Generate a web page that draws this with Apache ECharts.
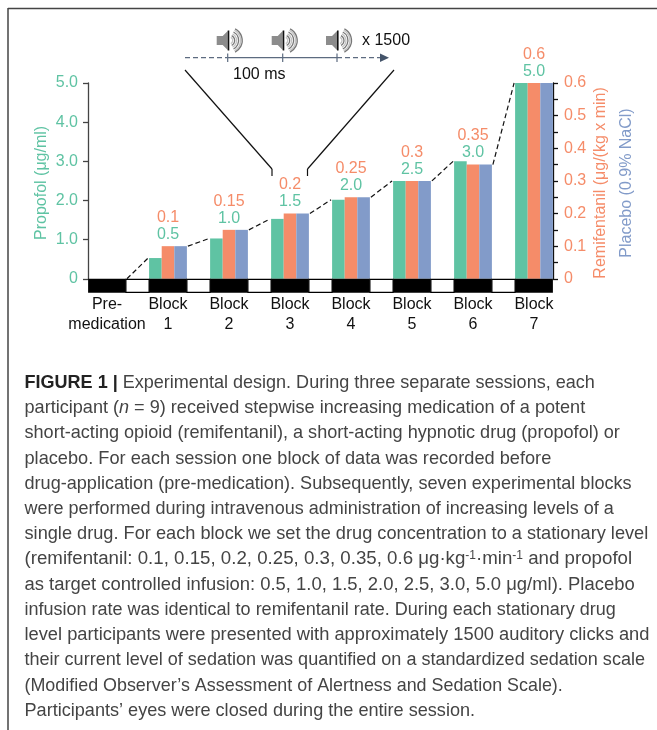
<!DOCTYPE html>
<html>
<head>
<meta charset="utf-8">
<style>
  html, body { margin: 0; padding: 0; background: #fff; }
  #main { width: 657px; height: 730px; }
</style>
<script src="https://cdn.jsdelivr.net/npm/echarts@6/dist/echarts.min.js"></script>
</head>
<body>
<div id="main"></div>
<script>
  var blocks = ['Pre-\nmedication', 'Block\n1', 'Block\n2', 'Block\n3', 'Block\n4', 'Block\n5', 'Block\n6', 'Block\n7']
  var propofol = [0, 0.53, 1.03, 1.53, 2.02, 2.5, 3.0, 5.0]
  var remifentanil = [0, 0.1, 0.15, 0.2, 0.25, 0.3, 0.35, 0.6]
  var placebo = [0, 0.1, 0.15, 0.2, 0.25, 0.3, 0.35, 0.6]
  var propofolLabels = ['', '0.5', '1.0', '1.5', '2.0', '2.5', '3.0', '5.0']
  var remifentanilLabels = ['', '0.1', '0.15', '0.2', '0.25', '0.3', '0.35', '0.6']
  var propofolMax = 5
  var remifentanilMax = 0.6

  var caption = [
    '{b|FIGURE 1 |} Experimental design. During three separate sessions, each',
    'participant ({i|n} = 9) received stepwise increasing medication of a potent',
    'short-acting opioid (remifentanil), a short-acting hypnotic drug (propofol) or',
    'placebo. For each session one block of data was recorded before',
    'drug-application (pre-medication). Subsequently, seven experimental blocks',
    'were performed during intravenous administration of increasing levels of a',
    'single drug. For each block we set the drug concentration to a stationary level',
    '(remifentanil: 0.1, 0.15, 0.2, 0.25, 0.3, 0.35, 0.6 μg·kg{s|-1}·min{s|-1} and propofol',
    'as target controlled infusion: 0.5, 1.0, 1.5, 2.0, 2.5, 3.0, 5.0 μg/ml). Placebo',
    'infusion rate was identical to remifentanil rate. During each stationary drug',
    'level participants were presented with approximately 1500 auditory clicks and',
    'their current level of sedation was quantified on a standardized sedation scale',
    '(Modified Observer’s Assessment of Alertness and Sedation Scale).',
    'Participants’ eyes were closed during the entire session.'
  ]
  var captionTops = [383, 408, 433, 459, 484, 509, 534, 559, 585, 610, 635, 660, 686, 711]
  // the original typeface is narrower than Liberation, so each line is fitted to its width
  var captionSizes = [18.05, 18.1, 18.1, 18.2, 18.1, 18, 18.2, 18.7, 18.45, 18, 18.3, 18.05, 17.9, 18.1]
  var clickTicks = [227.7, 282.7, 337]

  var green = '#5fc3a3'
  var orange = '#f58c69'
  var blue = '#829bc9'
  var font = '"Liberation Sans", Arial, sans-serif'
  var barWidth = 12.6

  // black/white strip under the bars and the dashed steps between blocks
  function renderBlock(params, api) {
    var i = api.value(0)
    var base = api.coord([i, 0])
    var half = barWidth * 1.5
    var children = [{
      type: 'rect',
      shape: { x: base[0] - half, y: base[1], width: half * 2, height: 14 },
      style: { fill: '#000' }
    }]
    if (i < blocks.length - 1) {
      var next = api.coord([i + 1, 0])
      var from = api.coord([i, remifentanil[i] / remifentanilMax * propofolMax])
      var to = api.coord([i + 1, propofol[i + 1]])
      children.push({
        type: 'rect',
        shape: { x: base[0] + half, y: base[1] + 0.5, width: next[0] - base[0] - half * 2, height: 13 },
        style: { fill: '#fff', stroke: '#000', lineWidth: 1.2 }
      })
      children.push({
        type: 'line',
        shape: { x1: base[0] + half + 1, y1: from[1], x2: next[0] - half - 1, y2: to[1] },
        style: { stroke: '#111', lineWidth: 1.2, lineDash: [5, 3] }
      })
    }
    return { type: 'group', children: children }
  }

  function speaker(x) {
    var arcs = [3.5, 5.5, 7.5, 9.5, 11.5, 13].map(function (r, n) {
      return {
        type: 'arc',
        shape: { cx: x + 1.5, cy: 40.5, r: r, startAngle: -1.1, endAngle: 1.1 },
        style: { fill: 'none', stroke: n % 2 ? '#777' : '#c4c4c4', lineWidth: 1.3 }
      }
    })
    return arcs.concat([
      { type: 'polygon', shape: { points: [[x - 11, 36], [x - 5, 36], [x, 31], [x, 50], [x - 5, 45], [x - 11, 45]] }, style: { fill: '#8c8c8c' } },
      { type: 'rect', shape: { x: x, y: 30.5, width: 1.6, height: 20 }, style: { fill: '#111' } }
    ])
  }

  function seg(x1, y1, x2, y2, color, width, dash) {
    return {
      type: 'line',
      shape: { x1: x1, y1: y1, x2: x2, y2: y2 },
      style: { stroke: color, lineWidth: width, lineDash: dash || null }
    }
  }

  var tl = '#5d6b80'
  var graphics = [
    seg(8, 8.5, 657, 8.5, '#444', 1.5),
    seg(8, 8, 8, 730, '#444', 1.5),
    seg(185, 57.7, 227, 57.7, tl, 1.2, [5, 3]),
    seg(227.7, 57.7, 337, 57.7, tl, 1.2),
    seg(337, 57.7, 380, 57.7, tl, 1.2, [5, 3]),
    { type: 'polygon', shape: { points: [[380, 53.5], [389, 57.7], [380, 62]] }, style: { fill: '#44546a' } },
    seg(185, 70, 272, 169, '#111', 1.2),
    seg(272, 169, 272, 176, '#111', 1.2),
    seg(394, 70, 307.5, 169, '#111', 1.2),
    seg(307.5, 169, 307.5, 176, '#111', 1.2),
    { type: 'text', style: { text: '100 ms', x: 233, y: 75, font: '16px ' + font, fill: '#111', verticalAlign: 'middle' } },
    { type: 'text', style: { text: 'x 1500', x: 362, y: 41, font: '16px ' + font, fill: '#111', verticalAlign: 'middle' } },
    {
      type: 'text', x: 627, y: 183, rotation: Math.PI / 2,
      style: { text: 'Placebo (0.9% NaCl)', x: 0, y: 0, font: '16px ' + font, fill: blue, align: 'center', verticalAlign: 'middle' }
    }
  ]
  clickTicks.forEach(function (x) {
    graphics.push(seg(x, 53.5, x, 62, tl, 1.2))
    graphics = graphics.concat(speaker(x))
  })
  caption.forEach(function (line, i) {
    var size = captionSizes[i] + 'px '
    graphics.push({
      type: 'text',
      style: {
        text: line, x: 24.5, y: captionTops[i], font: size + font, fill: '#444', verticalAlign: 'middle',
        rich: {
          b: { font: 'bold ' + size + font, fill: '#222' },
          i: { font: 'italic ' + size + font, fill: '#444' },
          s: { font: '12px ' + font, fill: '#444', verticalAlign: 'top' }
        }
      }
    })
  })

  function axisLabelText(v) {
    return v === 0 ? '0' : v.toFixed(1)
  }

  var option = {
    animation: false,
    backgroundColor: '#fff',
    textStyle: { fontFamily: font },
    grid: { left: 76.5, right: 92.5, top: 83, bottom: 451.2 },
    xAxis: {
      type: 'category',
      data: blocks,
      axisLine: { show: false },
      axisTick: { show: false },
      axisLabel: { color: '#111', fontSize: 16, lineHeight: 20, margin: 16, interval: 0 }
    },
    yAxis: [{
      type: 'value', min: 0, max: propofolMax, interval: 1, position: 'left', offset: -11.5,
      name: 'Propofol (μg/ml)', nameLocation: 'middle', nameGap: 38.5, nameMoveOverlap: false,
      nameTextStyle: { color: green, fontSize: 16, padding: [0, 4, 0, 0] },
      splitLine: { show: false },
      axisLine: { show: true, lineStyle: { color: '#444', width: 1.3 } },
      axisTick: { show: true, length: 5, lineStyle: { color: '#444', width: 1.3 } },
      axisLabel: { color: green, fontSize: 16, margin: 10, formatter: axisLabelText }
    }, {
      type: 'value', min: 0, max: remifentanilMax, interval: 0.1, position: 'right', offset: -11.5,
      name: 'Remifentanil (μg/(kg x min)', nameLocation: 'middle', nameGap: 40, nameRotate: 90, nameMoveOverlap: false,
      nameTextStyle: { color: orange, fontSize: 16, padding: [0, 4, 0, 0] },
      splitLine: { show: false },
      axisLine: { show: true, lineStyle: { color: '#111', width: 1.3 } },
      axisTick: { show: true, length: 5, lineStyle: { color: '#111', width: 1.3 } },
      minorTick: { show: true, splitNumber: 2, length: 5, lineStyle: { color: '#111', width: 1.3 } },
      axisLabel: { color: orange, fontSize: 16, margin: 11, formatter: axisLabelText }
    }],
    series: [{
      name: 'Propofol', type: 'bar', yAxisIndex: 0, data: propofol,
      barWidth: barWidth, barGap: 0, itemStyle: { color: green }
    }, {
      name: 'Remifentanil', type: 'bar', yAxisIndex: 1, data: remifentanil,
      barWidth: barWidth, barGap: 0, itemStyle: { color: orange },
      label: {
        show: true, position: 'top', distance: 3,
        formatter: function (p) {
          return remifentanilLabels[p.dataIndex] ? '{o|' + remifentanilLabels[p.dataIndex] + '}\n{g|' + propofolLabels[p.dataIndex] + '}' : ''
        },
        rich: {
          o: { color: orange, fontSize: 16, lineHeight: 17 },
          g: { color: green, fontSize: 16, lineHeight: 17 }
        }
      }
    }, {
      name: 'Placebo', type: 'bar', yAxisIndex: 1, data: placebo,
      barWidth: barWidth, barGap: 0, itemStyle: { color: blue }
    }, {
      type: 'custom', yAxisIndex: 0, z: 5, silent: true,
      data: blocks.map(function (b, i) { return [i, 0] }),
      encode: { x: 0, y: 1 },
      renderItem: renderBlock
    }],
    graphic: graphics
  }

  var chart = echarts.init(document.getElementById('main'), null, { renderer: 'canvas' })
  chart.setOption(option)
</script>
</body>
</html>
